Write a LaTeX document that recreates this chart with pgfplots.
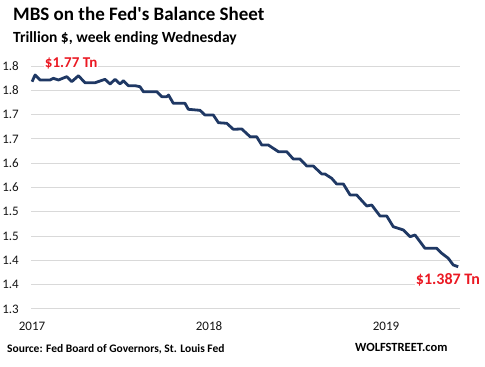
\documentclass[border=0pt]{standalone}
\usepackage{pgfplots}
\pgfplotsset{compat=1.18}
\usepackage{fontspec}
\setmainfont{Carlito}
\newfontfamily\plainfont{Carlito}
\definecolor{navy}{RGB}{31,56,100}
\definecolor{wred}{RGB}{235,25,35}
\definecolor{gridgray}{RGB}{217,217,217}
\definecolor{txt}{RGB}{20,20,20}
\begin{document}
\begin{tikzpicture}[x=1pt,y=1pt]
\path[use as bounding box] (0,0) rectangle (485,367);
\begin{axis}[at={(31pt,58pt)}, anchor=south west, scale only axis,
  width=429pt, height=243pt,
  xmin=2016.994, xmax=2019.418, ymin=1.3, ymax=1.8,
  axis line style={draw=none},
  ytick={1.30,1.35,1.40,1.45,1.50,1.55,1.60,1.65,1.70,1.75,1.80},
  yticklabels={1.3,1.4,1.4,1.5,1.5,1.6,1.6,1.7,1.7,1.8,1.8},
  xtick={2017,2018,2019}, xticklabels={2017,2018,2019},
  ymajorgrids, grid style={gridgray, line width=1pt},
  major tick length=0pt,
  tick label style={font=\fontsize{13}{13}\selectfont, text=txt},
  yticklabel style={anchor=east, inner sep=0pt, xshift=-12pt},
  xticklabel style={anchor=center, inner sep=0pt, yshift=-17.5pt},
  clip=false,
]
\addplot[navy, line width=2.8pt, line join=round] coordinates {
(2017.000,1.7677) (2017.017,1.7815) (2017.045,1.7712) (2017.102,1.7712)
(2017.120,1.7747) (2017.149,1.7712) (2017.196,1.7780) (2017.224,1.7677)
(2017.262,1.7800) (2017.299,1.7656) (2017.356,1.7656) (2017.412,1.7726)
(2017.441,1.7630) (2017.469,1.7726) (2017.497,1.7630) (2017.516,1.7698)
(2017.544,1.7595) (2017.582,1.7595) (2017.610,1.7574) (2017.629,1.7471)
(2017.705,1.7471) (2017.733,1.7368) (2017.761,1.7368) (2017.771,1.7403)
(2017.798,1.7233) (2017.864,1.7233) (2017.883,1.7109) (2017.949,1.7088)
(2017.977,1.6992) (2018.024,1.6992) (2018.053,1.6833) (2018.100,1.6821)
(2018.137,1.6698) (2018.185,1.6704) (2018.232,1.6545) (2018.269,1.6545)
(2018.298,1.6374) (2018.335,1.6374) (2018.392,1.6237) (2018.439,1.6237)
(2018.476,1.6086) (2018.514,1.6086) (2018.552,1.5942) (2018.589,1.5942)
(2018.637,1.5778) (2018.655,1.5778) (2018.693,1.5689) (2018.721,1.5572)
(2018.759,1.5572) (2018.797,1.5346) (2018.834,1.5346) (2018.891,1.5119)
(2018.919,1.5140) (2018.966,1.4914) (2019.004,1.4914) (2019.041,1.4693)
(2019.098,1.4626) (2019.136,1.4488) (2019.164,1.4523) (2019.220,1.4249)
(2019.286,1.4249) (2019.315,1.4146) (2019.352,1.4043) (2019.380,1.3905)
(2019.408,1.3870)
};
\node[anchor=west, fill=white, text=wred, inner sep=1pt,
  font=\bfseries\fontsize{15}{15}\selectfont] at (axis cs:2017.066,1.806) {\$1.77 Tn};
\node[anchor=west, fill=white, text=wred, inner sep=1pt,
  font=\bfseries\fontsize{16}{16}\selectfont] at (axis cs:2019.162,1.3597) {\$1.387 Tn};
\end{axis}
\node[anchor=base west, inner sep=0pt, text=black, font=\plainfont\bfseries\fontsize{19}{19}\selectfont] at (13,346) {MBS on the Fed's Balance Sheet};
\node[anchor=base west, inner sep=0pt, text=black, font=\bfseries\fontsize{15.5}{15.5}\selectfont] at (13,324) {Trillion \$, week ending Wednesday};
\node[anchor=base west, inner sep=0pt, text=black, font=\bfseries\fontsize{11.5}{11.5}\selectfont] at (7,14) {Source: Fed Board of Governors, St. Louis Fed};
\node[anchor=base west, inner sep=0pt, text=black, font=\bfseries\fontsize{12.5}{12.5}\selectfont] at (355,15) {WOLFSTREET.com};
\end{tikzpicture}
\end{document}
